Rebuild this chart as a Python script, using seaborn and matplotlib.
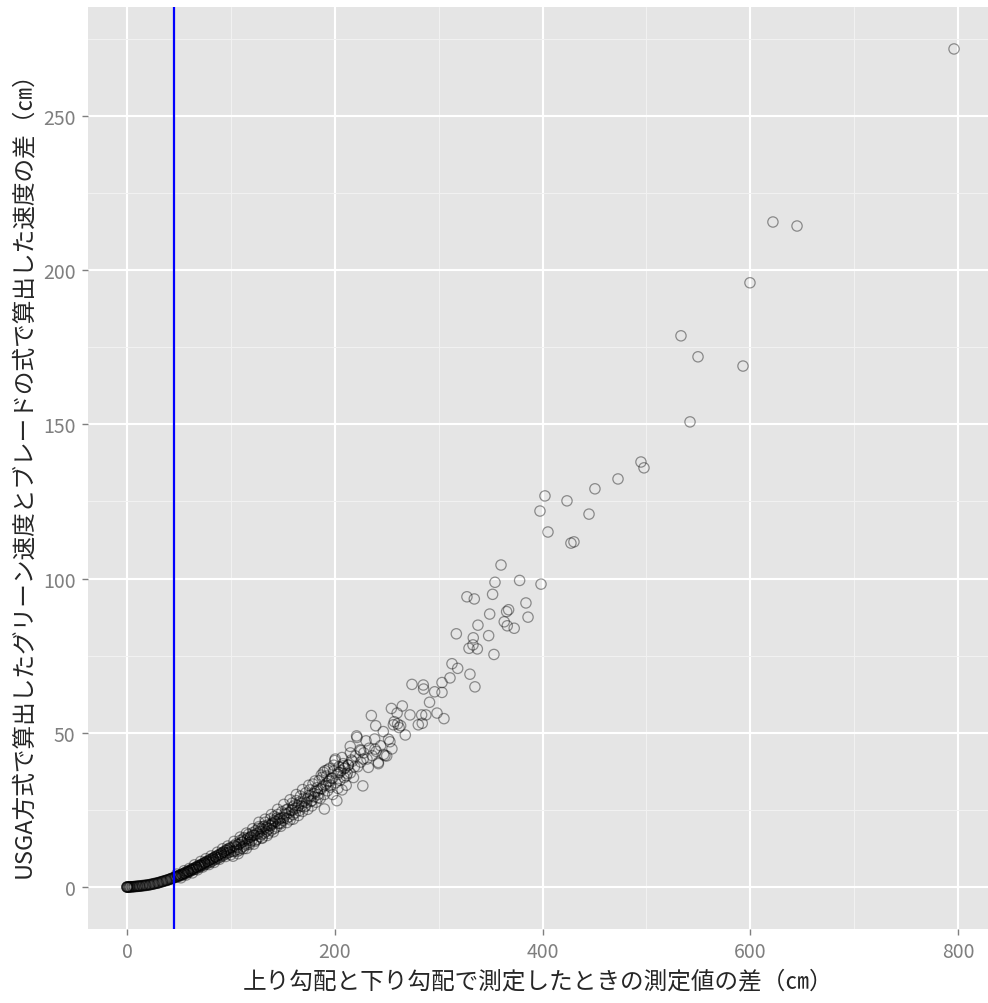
import numpy as np
import pandas as pd
import seaborn as sns
import matplotlib.pyplot as plt

# measured difference (cm) vs. USGA/blade speed difference (cm)
x_low = [0, 0.5, 1, 2, 3, 4, 5, 6, 7, 8, 9, 10, 11, 12, 13, 14, 15, 16, 17, 18, 19, 20,
         21, 22, 23, 24, 25, 26, 27, 28, 29, 30, 31, 32, 33, 34, 35, 36, 37, 38, 39, 40,
         41, 42, 43, 44, 45,
         0, 0, 1, 2, 3, 5, 7, 10, 12, 15, 18, 22, 26, 30, 34, 38, 42]
y_low = [0.0, 0.0, 0.0, 0.0, 0.0, 0.1, 0.1, 0.1, 0.1, 0.2, 0.2, 0.2, 0.3, 0.3, 0.3, 0.4,
         0.4, 0.5, 0.5, 0.6, 0.6, 0.7, 0.7, 0.8, 0.9, 0.9, 1.0, 1.1, 1.2, 1.2, 1.3, 1.4,
         1.5, 1.6, 1.7, 1.8, 1.9, 2.0, 2.1, 2.2, 2.3, 2.4, 2.5, 2.6, 2.8, 2.9, 3.0,
         0.0, 0.0, 0.0, 0.0, 0.1, 0.1, 0.2, 0.3, 0.3, 0.5, 0.5, 0.7, 1.0, 1.3, 1.7, 2.1, 2.7]

x_mid = [46, 47, 48, 49, 50, 51, 52, 53, 54, 55, 56, 57, 58, 59, 60, 61, 62, 63, 64, 65,
         66, 67, 68, 69, 70, 71, 72, 73, 74, 75, 76, 77, 78, 79, 80, 81, 82, 83, 84, 85,
         86, 87, 88, 89, 90, 91, 92, 93, 94, 95, 96, 97, 98, 99, 100,
         46.5, 50.5, 54.5, 58.5, 62.5, 66.5, 70.5, 74.5, 78.5, 82.5, 86.5, 90.5, 94.5, 98.5,
         101, 102, 103, 104, 105, 106, 107, 108, 109, 110, 111, 112, 113, 114, 115, 116,
         117, 118, 119, 120, 121, 122, 123, 124, 125, 126, 127, 128, 129, 130, 131, 132,
         133, 134, 135, 136, 137, 138, 139, 140, 141, 142, 143, 144, 145, 146, 147, 148,
         149, 150, 152, 154, 155, 156, 158, 159, 160,
         102.5, 105.5, 108.5, 111.5, 114.5, 117.5, 120.5, 123.5, 126.5, 129.5, 132.5,
         135.5, 138.5, 141.5, 144.5, 147.5, 151, 153, 157, 160]
y_mid = [3.1, 3.4, 3.2, 3.6, 3.5, 3.9, 3.7, 4.2, 4.0, 4.5, 4.3, 4.9, 4.6, 5.2, 4.9, 5.5,
         5.3, 5.9, 5.6, 6.2, 5.8, 6.6, 6.2, 7.0, 6.5, 7.2, 6.9, 7.6, 7.1, 8.0, 7.4, 8.3,
         7.8, 8.7, 8.0, 9.1, 8.4, 9.4, 8.8, 9.8, 9.1, 10.2, 9.4, 10.6, 9.8, 11.0, 10.1,
         11.4, 10.5, 11.9, 10.9, 12.3, 11.2, 12.7, 11.5,
         3.3, 3.8, 4.4, 5.0, 5.7, 6.4, 7.0, 7.7, 8.3, 9.0, 9.6, 10.4, 11.2, 12.0,
         12.8, 10.0, 13.4, 11.8, 14.0, 12.2, 10.8, 13.9, 15.1, 12.6, 14.6, 13.2, 16.0,
         14.0, 12.5, 15.8, 17.1, 14.4, 16.2, 15.0, 17.6, 13.9, 16.8, 18.3, 15.5, 17.2,
         21.0, 16.4, 18.9, 15.8, 19.6, 17.5, 21.0, 18.0, 16.7, 20.2, 19.0, 22.1, 18.4,
         20.8, 17.9, 22.9, 21.3, 19.5, 23.5, 20.6, 22.2, 19.7, 24.4, 21.6, 23.8, 20.9,
         25.3, 22.8, 24.9, 27.2, 23.5,
         11.5, 12.9, 12.0, 15.5, 13.6, 15.2, 16.8, 14.8, 19.0, 17.1, 19.8, 18.5, 20.0,
         21.6, 22.4, 20.8, 22.5, 25.0, 21.8, 26.0]

# extra points filling the thick part of the band
x_band = [48, 52, 55, 57, 60, 63, 65, 68, 71, 73, 76, 79, 81, 84, 87, 89, 92, 95, 97, 100,
          103, 106, 109, 112, 115, 118, 121, 124, 127, 130, 133, 136, 139, 142, 145, 148,
          151, 154, 157, 160, 163, 166, 169, 172, 175, 178, 181, 184, 187, 190, 193, 196,
          199, 203, 207, 211, 215, 219,
          49, 53, 56, 59, 61, 64, 67, 69, 72, 75, 77, 80, 83, 85, 88, 91, 93, 96, 99, 104,
          107, 110, 113, 116, 119, 122, 125, 128, 131, 134, 137, 140, 143, 146, 149, 153,
          156, 159, 162, 165, 168, 171, 174, 177, 180, 183, 186, 189, 192, 195, 198, 205,
          209, 213, 217]
y_band = [4.2, 3.0, 5.3, 3.9, 6.0, 4.6, 7.2, 5.6, 8.3, 6.5, 9.2, 7.3, 10.1, 8.0, 11.3, 9.0,
          12.4, 9.9, 13.3, 10.5, 14.8, 11.5, 16.2, 12.4, 17.5, 13.8, 18.9, 15.2, 19.6, 16.0,
          22.0, 17.4, 23.5, 19.0, 25.2, 20.5, 26.8, 22.3, 28.3, 22.0, 30.0, 24.8, 31.6,
          26.3, 33.0, 28.0, 34.4, 29.0, 36.3, 30.0, 38.0, 33.0, 39.5, 32.0, 42.0, 36.0,
          43.5, 39.0,
          3.6, 4.1, 4.6, 5.0, 5.4, 5.9, 6.4, 6.8, 7.3, 7.9, 8.3, 8.8, 9.4, 9.8, 10.3, 10.9,
          11.3, 11.9, 12.5, 13.2, 13.8, 14.4, 15.0, 15.6, 16.2, 16.8, 17.4, 18.0, 18.6,
          19.3, 19.9, 20.5, 21.1, 21.8, 22.4, 23.4, 24.1, 24.8, 25.6, 26.4, 27.1, 27.9,
          28.7, 29.5, 30.3, 31.1, 31.9, 32.7, 33.6, 34.4, 35.3, 37.2, 38.4, 39.6, 40.8]

x_upper = [161, 162, 163, 164, 165, 166, 167, 168, 169, 170, 171, 172, 173, 174, 175, 176,
           177, 178, 179, 180, 181, 182, 183, 184, 185, 186, 187, 188, 189, 190, 191, 192,
           193, 194, 195, 196, 197, 198, 199, 200, 201, 202, 203, 204, 205, 206, 207, 208,
           209, 210, 211, 212, 213, 215, 216, 218, 220, 221, 222, 225, 227, 228, 231, 233,
           236, 240, 242, 247, 250, 255,
           238.7, 248.3, 227.4, 232.3, 241.9, 208.2, 190.6, 203.4, 225.2, 261.9,
           200.5, 214.9, 224.5, 244.1, 221.4, 230.1, 238.4, 246.7, 251.8, 253.1, 267.9,
           239.4, 257.3, 256.4, 260.5, 263.4, 280.4, 284.2, 235.2, 272.4, 283.6, 287.7,
           298.4, 305.1, 265.0, 254.5, 260.0, 291.2, 296.1, 303.2, 274.3, 285.2, 285.5,
           303.2, 310.9, 330.1, 334.9, 312.8, 318.3, 329.2, 337.2, 333.0, 353.2, 317.0,
           333.3, 348.1, 363.1, 366.0, 372.7, 337.8, 349.1, 367.3, 365.4, 386.0, 384.0,
           327.2, 334.3, 351.9, 360.0, 354.2, 377.9, 398.5]
y_upper = [26.5, 24.1, 28.0, 25.6, 23.2, 27.5, 29.5, 26.2, 24.5, 28.8, 26.0, 30.5, 27.4,
           25.2, 29.7, 31.5, 27.8, 26.3, 33.4, 29.2, 31.0, 27.5, 32.2, 30.0, 34.5, 28.7,
           31.8, 35.6, 37.2, 25.3, 33.0, 36.0, 31.2, 34.2, 38.5, 32.4, 35.2, 30.0, 37.6,
           41.0, 33.8, 28.0, 36.5, 39.0, 34.6, 37.8, 31.5, 40.0, 35.5, 38.6, 33.0, 36.8,
           39.5, 37.0, 41.2, 35.5, 42.5, 49.0, 39.0, 40.5, 32.8, 43.5, 41.5, 45.0, 42.6,
           44.0, 40.0, 43.0, 42.5, 44.8,
           44.7, 42.6, 41.5, 38.8, 40.4, 39.3, 37.7, 37.2, 44.2, 51.7,
           41.5, 45.6, 44.5, 45.8, 48.5, 47.4, 48.0, 50.4, 47.9, 47.1, 49.3,
           52.3, 53.6, 52.6, 52.9, 52.3, 52.6, 53.1, 55.6, 55.8, 55.8, 55.8,
           56.4, 54.6, 58.7, 57.9, 56.4, 59.9, 63.3, 63.1, 65.7, 65.5, 64.2,
           66.3, 67.8, 69.0, 64.9, 72.4, 70.9, 77.4, 77.2, 78.5, 75.4, 82.1,
           80.8, 81.5, 86.0, 84.7, 83.9, 84.9, 88.5, 89.9, 89.3, 87.5, 92.1,
           94.1, 93.4, 94.9, 104.4, 98.8, 99.4, 98.2]

x_top = [796.0, 621.7, 644.9, 599.6, 533.2, 549.6, 592.9, 541.9, 494.7, 497.6, 472.6,
         450.4, 402.3, 423.5, 444.7, 397.5, 405.2, 427.3, 430.2]
y_top = [271.7, 215.6, 214.3, 195.9, 178.7, 171.9, 168.9, 150.8, 137.8, 135.9, 132.3,
         129.1, 126.8, 125.2, 120.9, 121.9, 115.1, 111.5, 111.9]

threshold = 45.2

df = pd.DataFrame({
    "measured": x_low + x_mid + x_band + x_upper + x_top,
    "speed": y_low + y_mid + y_band + y_upper + y_top,
})

sns.set_theme(style="darkgrid", rc={
    "axes.facecolor": "#E5E5E5",
    "grid.color": "white",
    "xtick.color": "#7F7F7F",
    "ytick.color": "#7F7F7F",
})
plt.rcParams["font.family"] = ["Noto Sans CJK JP", "DejaVu Sans"]

fig = plt.figure(figsize=(9.88, 10.04), dpi=100)
ax = fig.add_axes([88 / 988, 74 / 1004, 900 / 988, 922 / 1004])

sns.scatterplot(data=df, x="measured", y="speed", ax=ax, marker="o", s=55,
                facecolor="none", edgecolor="black", linewidth=0.9, alpha=0.4)
ax.axvline(threshold, color="blue", linewidth=1.6)

ax.set_xlim(-37.5, 828.7)
ax.set_ylim(-13.6, 285.3)
ax.set_xticks([0, 200, 400, 600, 800])
ax.set_yticks([0, 50, 100, 150, 200, 250])
ax.set_xticks([100, 300, 500, 700], minor=True)
ax.set_yticks([25, 75, 125, 175, 225, 275], minor=True)
ax.grid(which="major", color="white", linewidth=1.5)
ax.grid(which="minor", color="#F2F2F2", linewidth=0.7)
ax.tick_params(which="major", length=4, width=1, color="#7F7F7F", labelsize=14,
               labelcolor="#7F7F7F", bottom=True, left=True, pad=5)
ax.tick_params(which="minor", length=0)
for s in ax.spines.values():
    s.set_visible(False)

ax.set_xlabel("上り勾配と下り勾配で測定したときの測定値の差（㎝）", fontsize=17, labelpad=5)
ax.set_ylabel("USGA方式で算出したグリーン速度とブレードの式で算出した速度の差（㎝）",
              fontsize=17, labelpad=6)

fig.savefig("out.png", dpi=100)
